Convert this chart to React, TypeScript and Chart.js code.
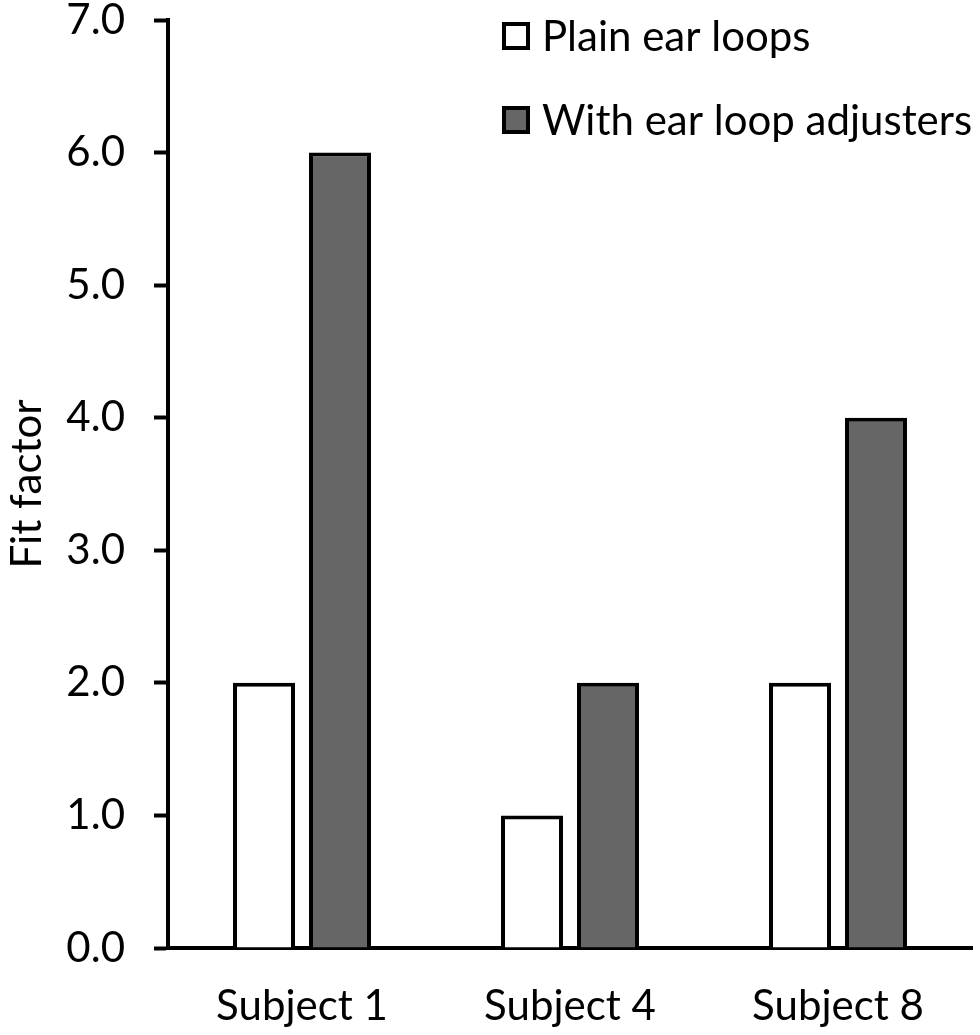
import React, { useEffect, useRef } from "react";
import { Chart, registerables } from "chart.js";

Chart.register(...registerables);

const categories = ["Subject 1", "Subject 4", "Subject 8"];
const plainEarLoops = [2, 1, 2];
const withAdjusters = [6, 2, 4];
const seriesNames = ["Plain ear loops", "With ear loop adjusters"];
const yTicks = [0, 1, 2, 3, 4, 5, 6, 7];

const FONT = "Lato";

const legendPlugin = {
  id: "customLegend",
  afterDraw(chart: any) {
    const ctx = chart.ctx;
    ctx.save();
    chart.data.datasets.forEach((ds: any, i: number) => {
      const cy = 36 + i * 84;
      ctx.fillStyle = ds.backgroundColor;
      ctx.fillRect(504, cy - 12, 24, 24);
      ctx.strokeStyle = "#000";
      ctx.lineWidth = 4;
      ctx.strokeRect(504, cy - 12, 24, 24);
      ctx.fillStyle = "#000";
      ctx.font = `42px ${FONT}`;
      ctx.textBaseline = "middle";
      ctx.textAlign = "left";
      ctx.fillText(ds.label, 542, cy + 1);
    });
    ctx.restore();
  },
};

export default function App() {
  const ref = useRef<HTMLCanvasElement>(null);
  useEffect(() => {
    if (!ref.current) return;
    const chart = new Chart(ref.current, {
      type: "bar",
      data: {
        labels: categories,
        datasets: [
          {
            label: seriesNames[0],
            data: plainEarLoops,
            backgroundColor: "#ffffff",
            borderColor: "#000000",
            borderWidth: 4,
            barPercentage: 0.816,
            categoryPercentage: 0.567,
          },
          {
            label: seriesNames[1],
            data: withAdjusters,
            backgroundColor: "#666666",
            borderColor: "#000000",
            borderWidth: 4,
            barPercentage: 0.816,
            categoryPercentage: 0.567,
          },
        ],
      },
      options: {
        animation: false,
        responsive: false,
        devicePixelRatio: 1,
        layout: { padding: { top: 20, right: 8, left: 0, bottom: 0 } },
        plugins: {
          legend: { display: false },
          tooltip: { enabled: false },
        },
        scales: {
          x: {
            grid: { display: false, drawTicks: false },
            border: { display: true, color: "#000", width: 4 },
            ticks: {
              color: "#000",
              font: { family: FONT, size: 42 },
              padding: 33,
              maxRotation: 0,
            },
            afterFit(scale: any) {
              scale.height = 87;
              scale.paddingLeft = 0;
              scale.paddingRight = 0;
            },
          },
          y: {
            min: 0,
            max: 7,
            afterBuildTicks(scale: any) {
              scale.ticks = yTicks.map((v) => ({ value: v }));
            },
            grid: {
              drawOnChartArea: false,
              drawTicks: true,
              tickLength: 14,
              tickColor: "#000",
              tickWidth: 4,
            },
            border: { display: true, color: "#000", width: 4 },
            ticks: {
              color: "#000",
              font: { family: FONT, size: 42 },
              padding: 29,
              callback: (v: any) => Number(v).toFixed(1),
            },
            title: {
              display: true,
              text: "Fit factor",
              color: "#000",
              font: { family: FONT, size: 42 },
              padding: { top: 2, bottom: 0 },
            },
            afterFit(scale: any) {
              scale.width = 168;
              scale.paddingTop = 0;
              scale.paddingBottom = 0;
            },
          },
        },
      },
      plugins: [legendPlugin],
    });
    return () => chart.destroy();
  }, []);
  return (
    <div style={{ position: "fixed", left: 0, top: 0, width: 980, height: 1035, background: "#fff" }}>
      <canvas ref={ref} width={980} height={1035} style={{ width: 980, height: 1035 }} />
    </div>
  );
}
